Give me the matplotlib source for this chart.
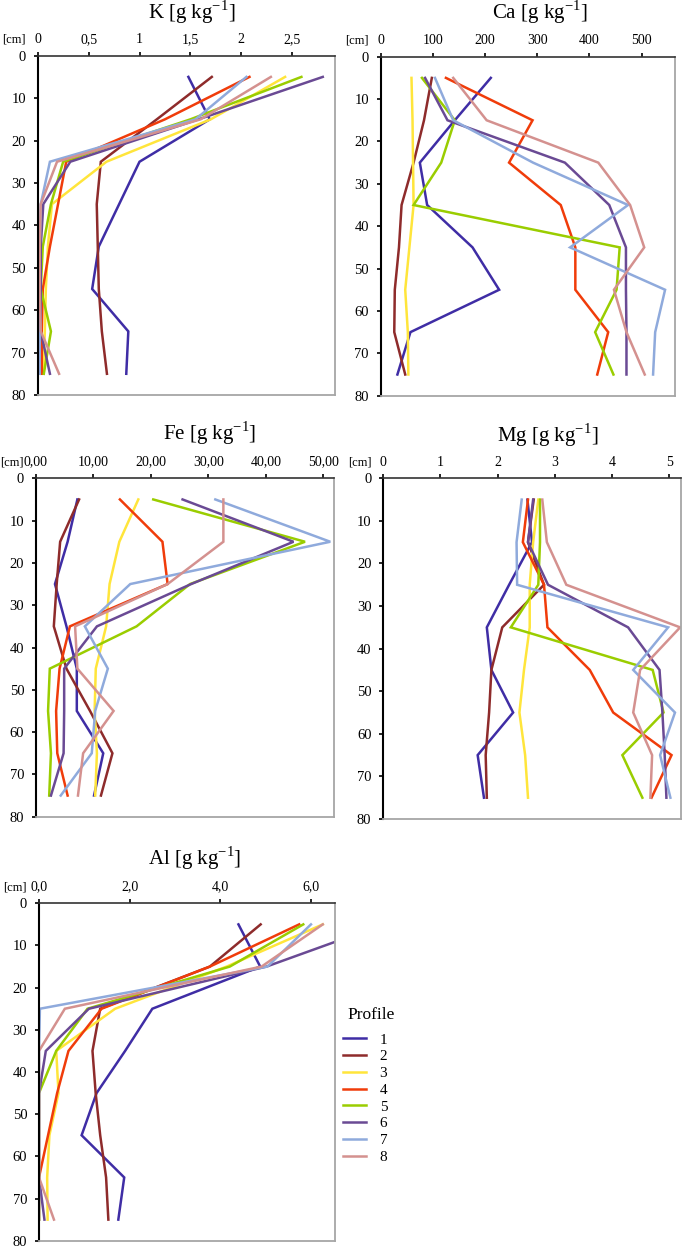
import matplotlib
matplotlib.use("Agg")
import matplotlib.pyplot as plt
from matplotlib.ticker import FixedLocator, FixedFormatter

plt.rcParams['font.family'] = ['Liberation Serif', 'DejaVu Serif']
plt.rcParams['mathtext.fontset'] = 'custom'
plt.rcParams['mathtext.rm'] = 'Liberation Serif'

depth = [5, 15, 25, 35, 45, 55, 65, 75]
profiles = ['1', '2', '3', '4', '5', '6', '7', '8']
colors = ['#3F2DA5', '#8E2B2B', '#FFE53B', '#F03C0A', '#9ACD00', '#6A4A94', '#8FAADC', '#D4918F']

K = [
    [1.48, 1.69, 1.00, 0.80, 0.60, 0.535, 0.89, 0.87],
    [1.71, 1.17, 0.62, 0.58, 0.59, 0.60, 0.63, 0.68],
    [2.43, 1.70, 0.675, 0.14, 0.10, 0.08, 0.07, 0.055],
    [2.08, 1.25, 0.28, 0.20, 0.12, 0.05, 0.04, 0.04],
    [2.59, 1.50, 0.25, 0.13, 0.05, 0.03, 0.13, 0.06],
    [2.80, 1.58, 0.32, 0.055, 0.03, 0.03, 0.03, 0.12],
    [2.05, 1.55, 0.12, 0.03, 0.02, 0.02, 0.02, 0.02],
    [2.29, 1.60, 0.19, 0.03, 0.02, 0.02, 0.03, 0.21],
]
Ca = [
    [211, 142, 75, 89, 176, 227, 57, 32],
    [98, 83, 63, 40, 35, 27, 26, 47],
    [59, 61, 62, 63, 55, 47, 52, 53],
    [125, 291, 246, 345, 373, 373, 436, 415],
    [79, 142, 116, 63, 458, 452, 411, 446],
    [85, 128, 353, 438, 470, 470, 471, 471],
    [104, 139, 292, 474, 363, 545, 526, 522],
    [139, 203, 417, 478, 505, 447, 471, 506],
]
Fe = [
    [7.2, 5.5, 3.3, 5.3, 7.1, 7.1, 11.7, 10.1],
    [7.5, 4.2, 3.6, 3.1, 5.3, 9.4, 13.3, 11.3],
    [17.8, 14.5, 12.8, 12.2, 10.4, 10.2, 10.6, 10.3],
    [14.6, 22.0, 22.9, 5.9, 4.1, 3.5, 3.7, 5.5],
    [20.4, 46.8, 26.8, 17.5, 2.4, 2.1, 2.6, 2.3],
    [25.5, 44.8, 27.0, 10.6, 4.9, 4.9, 4.8, 2.6],
    [31.2, 51.2, 16.4, 8.5, 12.5, 10.3, 9.7, 4.3],
    [32.6, 32.6, 22.9, 6.8, 7.2, 13.5, 8.2, 7.3],
]
Mg = [
    [2.52, 2.60, 2.20, 1.81, 1.89, 2.27, 1.65, 1.76],
    [2.63, 2.53, 2.81, 2.08, 1.89, 1.85, 1.79, 1.81],
    [2.71, 2.62, 2.56, 2.56, 2.46, 2.38, 2.48, 2.53],
    [2.53, 2.44, 2.81, 2.87, 3.61, 4.02, 5.04, 4.69],
    [2.74, 2.74, 2.71, 2.23, 4.71, 4.90, 4.18, 4.53],
    [2.62, 2.53, 2.88, 4.28, 4.83, 4.88, 4.92, 4.95],
    [2.42, 2.33, 2.34, 4.98, 4.37, 5.10, 4.84, 5.02],
    [2.78, 2.86, 3.20, 5.19, 4.49, 4.37, 4.70, 4.67],
]
Al = [
    [4.40, 4.88, 2.50, 1.90, 1.27, 0.94, 1.88, 1.75],
    [4.89, 3.77, 1.35, 1.18, 1.25, 1.35, 1.48, 1.53],
    [6.26, 4.14, 1.68, 0.38, 0.43, 0.23, 0.18, 0.19],
    [5.74, 3.77, 1.38, 0.65, 0.40, 0.20, 0.00, 0.00],
    [5.83, 4.21, 1.07, 0.38, 0.00, 0.00, 0.00, 0.00],
    [7.60, 5.02, 1.10, 0.15, 0.00, 0.00, 0.00, 0.12],
    [6.00, 5.04, 0.02, 0.00, 0.00, 0.00, 0.00, 0.00],
    [6.26, 4.91, 0.57, 0.00, 0.00, 0.00, 0.00, 0.33],
]

y_ticks = [0, 10, 20, 30, 40, 50, 60, 70, 80]
K_ticks = [0, 0.5, 1, 1.5, 2, 2.5]
K_labels = ['0', '0,5', '1', '1,5', '2', '2,5']
Ca_ticks = [0, 100, 200, 300, 400, 500]
Ca_labels = ['0', '100', '200', '300', '400', '500']
Fe_ticks = [0, 10, 20, 30, 40, 50]
Fe_labels = ['0,00', '10,00', '20,00', '30,00', '40,00', '50,00']
Mg_ticks = [0, 1, 2, 3, 4, 5]
Mg_labels = ['0', '1', '2', '3', '4', '5']
Al_ticks = [0, 2, 4, 6]
Al_labels = ['0,0', '2,0', '4,0', '6,0']

W, H = 685, 1248
fig = plt.figure(figsize=(W / 100, H / 100), dpi=100)


def rect(l, r, t, b):
    return [l / W, 1 - b / H, (r - l) / W, (b - t) / H]


panels = [
    (K, 'K', K_ticks, K_labels, 2.92, (37.7, 335, 55.7, 395), (192, 12)),
    (Ca, 'Ca', Ca_ticks, Ca_labels, 564, (380.7, 675, 56.7, 395.7), (540, 12)),
    (Fe, 'Fe', Fe_ticks, Fe_labels, 51.9, (36, 334.3, 478.3, 816.7), (210, 433)),
    (Mg, 'Mg', Mg_ticks, Mg_labels, 5.2, (383.3, 680.7, 478.3, 819), (548, 435)),
    (Al, 'Al', Al_ticks, Al_labels, 6.53, (39, 335, 903.3, 1240.7), (195, 858)),
]

handles = []
for data, name, xt, xl, xmax, px, tpos in panels:
    ax = fig.add_axes(rect(*px))
    hs = []
    for i, vals in enumerate(data):
        h, = ax.plot(vals, depth, color=colors[i], lw=1.8, label=profiles[i],
                     solid_joinstyle='miter')
        hs.append(h)
    handles = hs
    ax.set_xlim(0, xmax)
    ax.set_ylim(80, 0)
    ax.xaxis.tick_top()
    ax.xaxis.set_major_locator(FixedLocator(xt))
    ax.xaxis.set_major_formatter(FixedFormatter(xl))
    ax.set_yticks(y_ticks)
    ax.tick_params(axis='x', direction='out', length=3, width=1.2, pad=4,
                   labelsize=10, colors='black')
    ax.tick_params(axis='y', direction='out', length=3, width=1.2, pad=5.5,
                   labelsize=10.5)
    ax.spines['left'].set_color('black')
    ax.spines['left'].set_linewidth(1.5)
    ax.spines['top'].set_color('#333333')
    ax.spines['top'].set_linewidth(1.2)
    ax.spines['right'].set_color('#A6A6A6')
    ax.spines['right'].set_linewidth(1.3)
    ax.spines['bottom'].set_color('#A6A6A6')
    ax.spines['bottom'].set_linewidth(1.3)
    fig.text(tpos[0] / W, 1 - tpos[1] / H,
             name + r' [g kg$^{\mathregular{-1}}$]',
             ha='center', va='center', fontsize=15)
    left_px, top_px = px[0], px[2]
    fig.text((left_px - 12) / W, 1 - (top_px - 16) / H, '[cm]', ha='right',
             va='center', fontsize=9)

fig.text(347 / W, 1 - 1015 / H, 'Profile', ha='left', va='center', fontsize=12.5)
leg = fig.legend(handles=handles, loc='upper left',
                 bbox_to_anchor=(343 / W, 1 - 1033 / H),
                 frameon=False, fontsize=11,
                 handlelength=1.5, handletextpad=0.9,
                 labelspacing=0.2, borderaxespad=0, borderpad=0)

fig.savefig('out.png', dpi=100)
